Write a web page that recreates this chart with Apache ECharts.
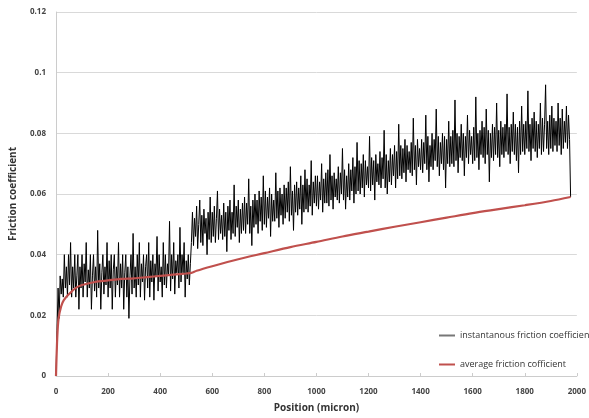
<!DOCTYPE html>
<html><head><meta charset="utf-8">
<script src="https://cdn.jsdelivr.net/npm/echarts@6/dist/echarts.min.js"></script>
<style>html,body{margin:0;padding:0;background:#fff}#c{width:589px;height:418px}</style>
</head><body><div id="c"></div>
<script>
// sampling step of instantaneous series (microns)
const instStep = 4;
const instValues = [
0, 0.015, 0.029, 0.019, 0.033, 0.027,
0.032, 0.026, 0.040, 0.029, 0.036, 0.026, 0.040, 0.030, 0.044, 0.026,
0.036, 0.029, 0.040, 0.026, 0.033, 0.040, 0.022, 0.036, 0.029, 0.040,
0.026, 0.037, 0.031, 0.044, 0.026, 0.035, 0.029, 0.040, 0.022, 0.033,
0.040, 0.028, 0.036, 0.026, 0.048, 0.029, 0.037, 0.022, 0.034, 0.040,
0.027, 0.036, 0.030, 0.044, 0.026, 0.038, 0.029, 0.040, 0.022, 0.035,
0.040, 0.026, 0.036, 0.030, 0.044, 0.026, 0.037, 0.029, 0.040, 0.022,
0.034, 0.040, 0.026, 0.036, 0.019, 0.033, 0.040, 0.027, 0.047, 0.029,
0.036, 0.026, 0.040, 0.030, 0.044, 0.026, 0.037, 0.031, 0.040, 0.025,
0.036, 0.040, 0.029, 0.044, 0.026, 0.038, 0.031, 0.040, 0.025, 0.037,
0.033, 0.046, 0.028, 0.040, 0.031, 0.036, 0.026, 0.044, 0.030, 0.040,
0.029, 0.037, 0.033, 0.051, 0.028, 0.040, 0.032, 0.044, 0.027, 0.038,
0.034, 0.040, 0.029, 0.049, 0.031, 0.040, 0.034, 0.044, 0.026, 0.038,
0.032, 0.040, 0.030, 0.037,
0.044, 0.054, 0.043, 0.052, 0.046, 0.056, 0.042, 0.050, 0.058, 0.044,
0.053, 0.043, 0.055, 0.047, 0.052, 0.040, 0.054, 0.045, 0.059, 0.044,
0.054, 0.046, 0.056, 0.044, 0.052, 0.061, 0.045, 0.055, 0.047, 0.053,
0.045, 0.057, 0.046, 0.054, 0.041, 0.056, 0.048, 0.058, 0.045, 0.054,
0.047, 0.063, 0.046, 0.056, 0.049, 0.058, 0.044, 0.055, 0.047, 0.057,
0.048, 0.059, 0.047, 0.057, 0.050, 0.065, 0.047, 0.056, 0.043, 0.058,
0.049, 0.060, 0.050, 0.058, 0.047, 0.061, 0.051, 0.059, 0.048, 0.066,
0.050, 0.061, 0.049, 0.059, 0.052, 0.062, 0.046, 0.060, 0.051, 0.058,
0.051, 0.067, 0.052, 0.061, 0.049, 0.062, 0.053, 0.060, 0.050, 0.063,
0.052, 0.062, 0.054, 0.064, 0.051, 0.069, 0.053, 0.061, 0.048, 0.063,
0.054, 0.064, 0.053, 0.062, 0.055, 0.066, 0.050, 0.063, 0.054, 0.068,
0.055, 0.065, 0.054, 0.063, 0.056, 0.071, 0.053, 0.064, 0.057, 0.066,
0.056, 0.066, 0.055, 0.064, 0.058, 0.070, 0.054, 0.065, 0.057, 0.067,
0.057, 0.068, 0.056, 0.073, 0.058, 0.066, 0.055, 0.067, 0.059, 0.065,
0.058, 0.069, 0.057, 0.067, 0.060, 0.075, 0.058, 0.068, 0.055, 0.066,
0.059, 0.070, 0.058, 0.068, 0.061, 0.072, 0.057, 0.069, 0.060, 0.077,
0.061, 0.071, 0.060, 0.070, 0.062, 0.073, 0.059, 0.071, 0.063, 0.069,
0.062, 0.079, 0.061, 0.072, 0.063, 0.071, 0.058, 0.073, 0.064, 0.070,
0.063, 0.074, 0.062, 0.072, 0.065, 0.081, 0.062, 0.073, 0.060, 0.071,
0.064, 0.075, 0.063, 0.073, 0.066, 0.076, 0.062, 0.074, 0.065, 0.083,
0.066, 0.076, 0.065, 0.075, 0.067, 0.078, 0.064, 0.076, 0.068, 0.074,
0.067, 0.077, 0.066, 0.085, 0.068, 0.076, 0.063, 0.078, 0.069, 0.075,
0.068, 0.078, 0.067, 0.077, 0.070, 0.086, 0.068, 0.079, 0.064, 0.076,
0.069, 0.080, 0.068, 0.078, 0.071, 0.088, 0.069, 0.079, 0.066, 0.077,
0.070, 0.080, 0.068, 0.079, 0.062, 0.078, 0.070, 0.084, 0.069, 0.079,
0.070, 0.081, 0.069, 0.091, 0.071, 0.080, 0.067, 0.079, 0.072, 0.083,
0.071, 0.080, 0.066, 0.079, 0.072, 0.086, 0.070, 0.081, 0.073, 0.079,
0.070, 0.082, 0.071, 0.092, 0.072, 0.080, 0.068, 0.081, 0.073, 0.084,
0.072, 0.082, 0.070, 0.088, 0.073, 0.081, 0.064, 0.080, 0.072, 0.083,
0.071, 0.082, 0.073, 0.090, 0.072, 0.081, 0.069, 0.084, 0.073, 0.082,
0.072, 0.083, 0.074, 0.093, 0.073, 0.082, 0.070, 0.083, 0.074, 0.087,
0.073, 0.083, 0.071, 0.082, 0.067, 0.084, 0.073, 0.089, 0.074, 0.083,
0.073, 0.084, 0.075, 0.094, 0.074, 0.083, 0.071, 0.085, 0.075, 0.087,
0.074, 0.084, 0.072, 0.083, 0.075, 0.090, 0.073, 0.085, 0.074, 0.083,
0.096, 0.075, 0.084, 0.073, 0.086, 0.075, 0.089, 0.074, 0.085, 0.076,
0.084, 0.074, 0.090, 0.076, 0.085, 0.073, 0.088, 0.075, 0.084, 0.077,
0.089, 0.075, 0.086, 0.078, 0.059
];
const avgPositions = [0, 5, 10, 20, 30, 50, 75, 100, 150, 200, 250, 300, 350, 400, 450, 500, 520, 540, 600, 700, 800, 900, 1000, 1100, 1200, 1300, 1400, 1500, 1600, 1700, 1800, 1900, 1976];
const avgValues = [0, 0.013, 0.019, 0.023, 0.025, 0.027, 0.029, 0.030, 0.031, 0.0315, 0.032, 0.0322, 0.0326, 0.033, 0.0334, 0.0338, 0.034, 0.0347, 0.0362, 0.0385, 0.0405, 0.0425, 0.0442, 0.046, 0.0476, 0.0492, 0.0507, 0.0522, 0.0537, 0.055, 0.0563, 0.0577, 0.059];
const seriesNames = ['instantanous friction coefficient', 'average friction cofficient'];
const xTitle = 'Position (micron)';
const yTitle = 'Friction coefficient';

const instData = instValues.map((v, i) => [i * instStep, v]);
const avgData = avgPositions.map((p, i) => [p, avgValues[i]]);

const chart = echarts.init(document.getElementById('c'), null, {renderer: 'canvas'});
const lblFont = {fontFamily: 'Open Sans', fontSize: 8, fontWeight: 'bold', color: '#444'};
chart.setOption({
  animation: false,
  backgroundColor: '#fff',
  grid: {left: 55, right: 8, top: 12, bottom: 40},
  legend: {
    orient: 'vertical', left: 434, top: 326, itemWidth: 16, itemHeight: 2, itemGap: 20,
    icon: 'rect',
    textStyle: {fontFamily: 'Open Sans', fontSize: 9, color: '#333'},
    data: [
      {name: seriesNames[0], itemStyle: {color: '#777'}},
      {name: seriesNames[1], itemStyle: {color: '#c0504d'}}
    ]
  },
  xAxis: {
    type: 'value', min: 0, max: 2000, interval: 200,
    name: xTitle, nameLocation: 'middle', nameGap: 27,
    nameTextStyle: {fontFamily: 'Open Sans', fontSize: 10, fontWeight: 'bold', color: '#333'},
    axisLine: {show: true, lineStyle: {color: '#ccc'}},
    axisTick: {show: true, inside: true, length: 3, lineStyle: {color: '#ccc'}},
    axisLabel: Object.assign({margin: 12, formatter: v => String(v)}, lblFont),
    splitLine: {show: false}
  },
  yAxis: {
    type: 'value', min: 0, max: 0.12, interval: 0.02,
    name: yTitle, nameLocation: 'middle', nameGap: 38,
    nameTextStyle: {fontFamily: 'Open Sans', fontSize: 10, fontWeight: 'bold', color: '#333'},
    axisLine: {show: true, lineStyle: {color: '#ccc'}},
    axisTick: {show: false},
    axisLabel: Object.assign({margin: 10, formatter: v => String(+v.toFixed(2))}, lblFont),
    splitLine: {show: true, lineStyle: {color: '#d9d9d9'}}
  },
  series: [
    {name: seriesNames[0], type: 'line', data: instData, symbol: 'none',
     lineStyle: {color: '#000', width: 1}, itemStyle: {color: '#000'}},
    {name: seriesNames[1], type: 'line', data: avgData, symbol: 'none', smooth: 0.3,
     lineStyle: {color: '#c0504d', width: 2.2}, itemStyle: {color: '#c0504d'}}
  ]
});
</script></body></html>
